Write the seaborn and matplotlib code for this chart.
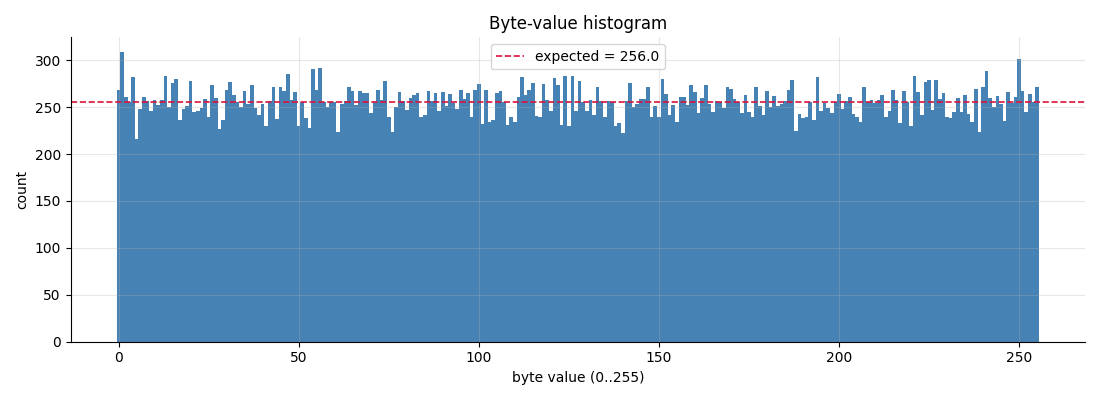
import numpy as np
import pandas as pd
import matplotlib
matplotlib.use("Agg")
import matplotlib.pyplot as plt
import seaborn as sns

byte_values = list(range(256))
counts = [
    268, 309, 261, 255, 282, 216, 248, 261, 257, 246,
    258, 252, 258, 283, 250, 276, 280, 236, 248, 251,
    278, 245, 246, 249, 259, 240, 274, 260, 227, 236,
    268, 277, 263, 255, 250, 267, 253, 274, 249, 242,
    253, 230, 257, 271, 237, 271, 267, 285, 258, 266,
    230, 255, 238, 228, 291, 268, 292, 255, 250, 255,
    255, 224, 253, 257, 272, 267, 252, 267, 265, 265,
    244, 255, 268, 258, 278, 240, 224, 250, 266, 257,
    247, 260, 263, 265, 240, 242, 267, 257, 265, 246,
    266, 251, 264, 254, 248, 268, 259, 265, 240, 268,
    275, 232, 268, 234, 236, 265, 267, 256, 231, 240,
    234, 261, 282, 263, 268, 276, 241, 240, 275, 258,
    246, 281, 274, 231, 283, 230, 283, 246, 278, 256,
    246, 258, 242, 271, 257, 240, 257, 256, 230, 233,
    222, 257, 276, 250, 253, 259, 259, 271, 240, 251,
    240, 280, 264, 242, 252, 234, 261, 261, 252, 274,
    266, 244, 260, 274, 253, 245, 257, 256, 249, 271,
    269, 259, 256, 244, 263, 245, 240, 272, 251, 242,
    267, 250, 262, 251, 253, 257, 268, 279, 225, 243,
    238, 240, 255, 236, 282, 246, 254, 249, 244, 256,
    264, 248, 257, 261, 243, 240, 234, 272, 255, 258,
    254, 258, 263, 240, 246, 268, 258, 233, 267, 256,
    230, 283, 266, 242, 277, 279, 247, 279, 259, 265,
    240, 238, 245, 260, 245, 263, 243, 234, 269, 224,
    272, 289, 260, 250, 262, 253, 235, 266, 254, 261,
    301, 267, 245, 264, 256, 272,
]
n_samples = 65536
expected = n_samples / 256

df = pd.DataFrame({"byte": byte_values, "count": counts})

fig, ax = plt.subplots(figsize=(11, 4), dpi=100)
sns.histplot(data=df, x="byte", weights="count", discrete=True,
             color="steelblue", alpha=1.0, linewidth=0, ax=ax)
ax.axhline(expected, color="crimson", linestyle="--", linewidth=1.2,
           label=f"expected = {expected:.1f}")
ax.grid(True, alpha=0.3)
ax.set_title("Byte-value histogram")
ax.set_xlabel("byte value (0..255)")
ax.set_ylabel("count")
ax.legend(loc="upper center")
sns.despine(ax=ax)
fig.tight_layout()
fig.savefig("out.png", dpi=100)
